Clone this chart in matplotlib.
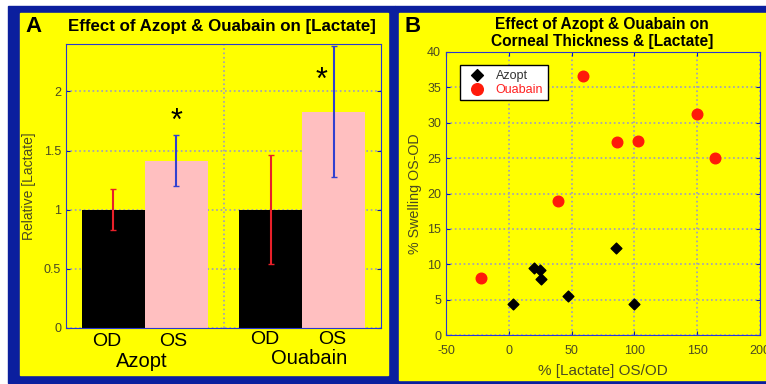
import matplotlib.pyplot as plt
from matplotlib.patches import Rectangle

plt.rcParams['font.family'] = ['Liberation Sans', 'DejaVu Sans']
plt.rcParams['axes.unicode_minus'] = False

# panel A data
groups = ['Azopt', 'Ouabain']
od_vals = [1.0, 1.0]
os_vals = [1.415, 1.825]
od_lo = [0.83, 0.545]
od_hi = [1.175, 1.46]
os_lo = [1.197, 1.276]
os_hi = [1.635, 2.385]

# panel B data
azopt_x = [3, 20, 25, 25.4, 47, 85, 100]
azopt_y = [4.4, 9.4, 9.2, 7.9, 5.5, 12.3, 4.4]
ouab_x = [-22, 39, 59, 86, 103, 150, 164]
ouab_y = [8.0, 19.0, 36.6, 27.3, 27.4, 31.2, 25.0]

W, H = 766, 384
yellow = '#ffff00'
navy = '#0b1f9e'
tickc = '#4a4a22'
gridc = '#9a9ac8'

fig = plt.figure(figsize=(W / 100, H / 100), dpi=100, facecolor='white')


def px_rect(x0, y0, x1, y1, color):
    fig.patches.append(Rectangle((x0 / W, 1 - y1 / H), (x1 - x0) / W, (y1 - y0) / H,
                                 transform=fig.transFigure, color=color, zorder=-10))


def px_axes(x0, y0, x1, y1):
    return fig.add_axes([x0 / W, 1 - y1 / H, (x1 - x0) / W, (y1 - y0) / H])


# backgrounds
px_rect(8, 6, 395, 383, navy)
px_rect(20, 13, 388, 375, yellow)
px_rect(395, 6, 766, 384, navy)
px_rect(399, 13, 766, 380, yellow)

# ---------- panel A ----------
ax = px_axes(66, 44, 381, 328)
ax.set_facecolor(yellow)
w = 0.4
pos = [1, 2]
for i in range(2):
    ax.bar(pos[i] - w / 2, od_vals[i], w, color='black', zorder=2)
    ax.bar(pos[i] + w / 2, os_vals[i], w, color='#ffbfc0', zorder=2)
    ax.errorbar(pos[i] - w / 2, od_vals[i],
                yerr=[[od_vals[i] - od_lo[i]], [od_hi[i] - od_vals[i]]],
                color='#e8202a', capsize=2, lw=1.5, zorder=3)
    ax.errorbar(pos[i] + w / 2, os_vals[i],
                yerr=[[os_vals[i] - os_lo[i]], [os_hi[i] - os_vals[i]]],
                color='#3040d0', capsize=2, lw=1.5, zorder=3)
ax.text(pos[0] + w / 2, 1.74, '*', fontsize=22, ha='center', va='center', zorder=4)
ax.text(pos[1] + w / 2 - 0.08, 2.09, '*', fontsize=22, ha='center', va='center', zorder=4)
ax.set_xlim(0.5, 2.5)
ax.set_ylim(0, 2.4)
ax.set_yticks([0, 0.5, 1, 1.5, 2])
ax.set_yticklabels(['0', '0.5', '1', '1.5', '2'])
ax.set_xticks([1.5])
ax.set_xticklabels([])
ax.grid(True, color=gridc, linestyle=':', lw=1.2, zorder=1)
ax.set_axisbelow(True)
ax.tick_params(axis='y', colors=navy, labelcolor=tickc, labelsize=9, length=3,
               direction='in', right=True)
ax.tick_params(axis='x', length=0)
for s in ax.spines.values():
    s.set_color('#2838d0')
ax.set_ylabel('Relative [Lactate]', fontsize=10, color=tickc, labelpad=6)
sub_x = [[0.76, 1.18], [1.76, 2.19]]
sub_y = [[-0.118, -0.118], [-0.1, -0.1]]
grp_x = [0.98, 2.045]
grp_y = [-0.28, -0.255]
for i in range(2):
    ax.text(sub_x[i][0], sub_y[i][0], 'OD', fontsize=14, ha='center', va='center')
    ax.text(sub_x[i][1], sub_y[i][1], 'OS', fontsize=14, ha='center', va='center')
    ax.text(grp_x[i], grp_y[i], groups[i], fontsize=14.5, ha='center', va='center')
fig.text(33 / W, 1 - 26 / H, 'A', fontsize=16, fontweight='bold', ha='center', va='center')
fig.text(222 / W, 1 - 26 / H, 'Effect of Azopt & Ouabain on [Lactate]', fontsize=12.2,
         fontweight='bold', ha='center', va='center')

# ---------- panel B ----------
bx = px_axes(446, 52, 760, 335)
bx.set_facecolor(yellow)
bx.scatter(azopt_x, azopt_y, marker='D', s=30, color='black', zorder=3, label='Azopt')
bx.scatter(ouab_x, ouab_y, marker='o', s=58, color='#ff1a0a', zorder=3, label='Ouabain')
bx.set_xlim(-50, 200)
bx.set_ylim(0, 40)
bx.set_xticks([-50, 0, 50, 100, 150, 200])
bx.set_yticks(range(0, 41, 5))
bx.grid(True, color=gridc, linestyle=':', lw=1.2, zorder=1)
bx.set_axisbelow(True)
bx.tick_params(colors=navy, labelcolor=tickc, labelsize=9, length=3, direction='in',
               right=True, top=True)
bx.tick_params(axis='x', pad=7)
for s in bx.spines.values():
    s.set_color('#2838d0')
bx.set_xlabel('% [Lactate] OS/OD', fontsize=11, color=tickc, labelpad=5)
bx.set_ylabel('% Swelling OS-OD', fontsize=10.3, color=tickc)
leg = bx.legend(loc='upper left', bbox_to_anchor=(0.025, 0.975), fontsize=9,
                frameon=True, fancybox=False, edgecolor='black', framealpha=1,
                handletextpad=0.5, borderpad=0.35, labelspacing=0.15, markerscale=1.1)
leg.get_frame().set_linewidth(1.0)
leg.get_texts()[0].set_color('#333333')
leg.get_texts()[1].set_color('#ff2020')
fig.text(413 / W, 1 - 27 / H, 'B', fontsize=16, fontweight='bold', ha='center', va='center')
fig.text(602 / W, 1 - 33 / H, 'Effect of Azopt & Ouabain on\nCorneal Thickness & [Lactate]',
         fontsize=11.2, fontweight='bold', ha='center', va='center', linespacing=1.15)

fig.savefig('out.png', dpi=100, facecolor='white')
